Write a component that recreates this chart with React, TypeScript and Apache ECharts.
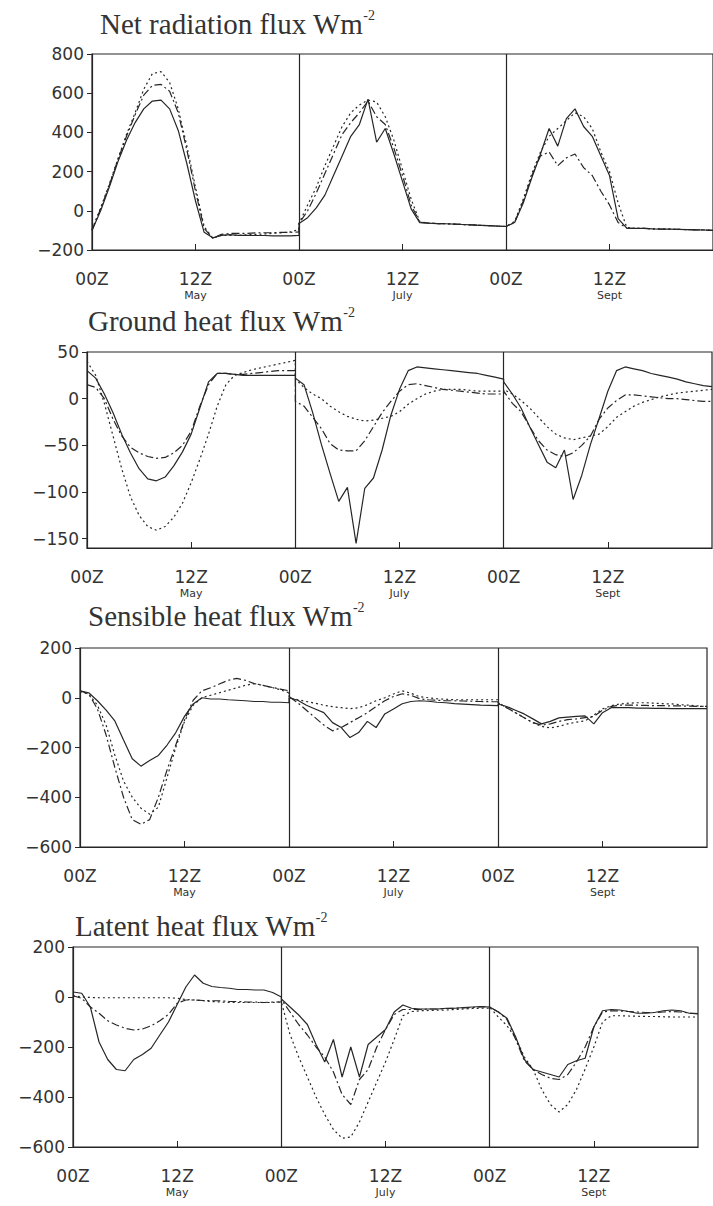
import React, { useEffect, useRef } from "react";
import * as echarts from "echarts";

// ---------- tick labels / categories ----------
const months = ["May", "July", "Sept"];
const titles = [
  "Net radiation flux Wm",
  "Ground heat flux Wm",
  "Sensible heat flux Wm",
  "Latent heat flux Wm",
];

// ---------- Net radiation (W m-2), hourly 00Z..24Z per day ----------
const netSolidMay = [-100, 0, 120, 250, 360, 450, 520, 560, 565, 520, 410, 240, 50, -110, -138, -125, -122, -125, -125, -126, -126, -128, -128, -128, -125];
const netDashMay = [-100, 10, 130, 260, 380, 490, 590, 640, 645, 610, 500, 310, 100, -90, -140, -120, -115, -115, -115, -112, -112, -112, -110, -110, -108];
const netDotMay = [-95, 15, 135, 265, 390, 500, 620, 700, 710, 655, 520, 330, 120, -80, -140, -125, -125, -125, -122, -120, -118, -115, -112, -108, -95];
const netSolidJuly = [-65, -35, 15, 80, 180, 280, 380, 440, 570, 350, 420, 290, 150, 10, -60, -63, -65, -66, -68, -70, -72, -74, -76, -78, -80];
const netDashJuly = [-65, 0, 90, 190, 290, 390, 450, 500, 560, 480, 440, 320, 180, 30, -58, -63, -65, -66, -68, -70, -72, -74, -76, -78, -80];
const netDotJuly = [-65, 30, 120, 230, 330, 430, 500, 540, 565, 555, 480, 360, 210, 60, -55, -63, -65, -66, -68, -70, -72, -74, -76, -78, -80];
const netSolidSept = [-80, -60, 40, 170, 290, 420, 330, 470, 520, 430, 380, 280, 180, -40, -88, -90, -90, -92, -93, -94, -95, -96, -97, -98, -100];
const netDashSept = [-80, -60, 50, 180, 280, 300, 230, 270, 290, 220, 180, 100, 30, -60, -88, -90, -90, -92, -93, -94, -95, -96, -97, -98, -100];
const netDotSept = [-80, -55, 60, 190, 300, 380, 420, 460, 500, 480, 420, 300, 200, 40, -85, -90, -90, -92, -93, -94, -95, -96, -97, -98, -100];

// ---------- Ground heat flux ----------
const gSolidMay = [30, 22, 5, -15, -38, -58, -75, -86, -88, -84, -72, -57, -38, -10, 18, 27, 27, 26, 25, 25, 25, 25, 25, 25, 25];
const gDashMay = [15, 12, 0, -22, -40, -52, -58, -62, -64, -63, -58, -50, -35, -8, 15, 27, 27, 26, 26, 27, 28, 29, 30, 30, 30];
const gDotMay = [40, 25, -5, -40, -75, -105, -125, -137, -141, -137, -127, -112, -90, -65, -38, -8, 15, 25, 28, 31, 33, 35, 37, 39, 41];
const gSolidJuly = [22, 15, -15, -49, -80, -110, -95, -155, -96, -85, -55, -18, 10, 30, 34, 33, 32, 31, 30, 29, 28, 27, 25, 23, 21];
const gDashJuly = [-3, -8, -20, -32, -48, -55, -56, -56, -45, -30, -15, -3, 8, 15, 16, 14, 12, 10, 9, 8, 7, 6, 5, 5, 5];
const gDotJuly = [21, 12, 5, 0, -8, -14, -19, -22, -24, -23, -21, -19, -14, -6, 0, 5, 8, 10, 10, 10, 9, 8, 8, 8, 8];
const gSolidSept = [18, 5, -10, -30, -49, -68, -74, -55, -108, -82, -49, -21, 8, 30, 34, 32, 30, 27, 25, 23, 21, 18, 16, 14, 13];
const gDashSept = [8, -5, -14, -30, -45, -55, -60, -62, -58, -50, -40, -22, -10, -2, 4, 4, 3, 2, 1, 0, 0, -1, -2, -3, -3];
const gDotSept = [10, 5, -2, -10, -20, -30, -38, -42, -44, -42, -40, -38, -30, -20, -14, -8, -4, -1, 2, 4, 6, 7, 8, 9, 10];

// ---------- Sensible heat flux ----------
const sSolidMay = [28, 20, -12, -50, -93, -170, -245, -275, -252, -232, -190, -140, -75, -25, 0, -5, -5, -8, -10, -12, -15, -15, -18, -18, -20];
const sDashMay = [28, 15, -45, -150, -280, -400, -490, -509, -490, -400, -290, -190, -90, -10, 28, 40, 55, 70, 78, 70, 57, 50, 42, 35, 28];
const sDotMay = [25, 15, -30, -110, -230, -335, -400, -444, -468, -440, -320, -200, -95, -30, 0, 10, 20, 30, 40, 50, 57, 50, 42, 32, 20];
const sSolidJuly = [0, -10, -30, -45, -60, -100, -120, -160, -140, -95, -120, -65, -45, -24, -15, -12, -14, -18, -20, -24, -26, -28, -30, -31, -32];
const sDashJuly = [5, -20, -50, -80, -110, -133, -120, -100, -80, -60, -35, -12, 5, 16, 10, -4, -8, -10, -12, -12, -13, -14, -15, -16, -16];
const sDotJuly = [0, -8, -15, -22, -30, -36, -40, -44, -40, -28, -12, 0, 15, 28, 18, 4, 0, -4, -6, -8, -8, -8, -8, -8, -8];
const sSolidSept = [-25, -35, -50, -65, -85, -105, -95, -81, -78, -75, -73, -105, -60, -40, -40, -40, -42, -42, -43, -43, -44, -44, -44, -44, -44];
const sDashSept = [-20, -40, -60, -80, -100, -110, -105, -95, -88, -85, -80, -75, -50, -35, -30, -30, -30, -31, -32, -32, -33, -33, -34, -35, -35];
const sDotSept = [-20, -40, -60, -80, -100, -115, -121, -115, -105, -98, -93, -70, -45, -32, -25, -22, -20, -20, -22, -24, -25, -28, -30, -33, -36];

// ---------- Latent heat flux ----------
const lSolidMay = [20, 15, -40, -180, -250, -290, -295, -250, -230, -205, -152, -100, -30, 40, 88, 55, 42, 38, 35, 30, 30, 28, 28, 18, 0];
const lDashMay = [5, -5, -40, -65, -95, -112, -125, -132, -128, -115, -95, -70, -25, -12, -12, -14, -15, -15, -18, -18, -20, -20, -22, -20, -20];
const lDotMay = [5, 0, -2, -3, -3, -3, -3, -3, -3, -3, -3, -3, -5, -10, -12, -15, -18, -20, -22, -22, -22, -22, -22, -22, -20];
const lSolidJuly = [-8, -40, -72, -110, -190, -260, -170, -320, -200, -320, -190, -160, -130, -60, -32, -45, -48, -48, -48, -45, -45, -42, -40, -38, -40];
const lDashJuly = [-10, -60, -110, -152, -200, -240, -300, -390, -430, -330, -290, -200, -130, -70, -50, -50, -50, -48, -48, -46, -45, -44, -42, -40, -40];
const lDotJuly = [-20, -150, -240, -320, -400, -470, -530, -565, -560, -500, -420, -340, -260, -170, -75, -58, -55, -54, -53, -52, -50, -48, -46, -45, -44];
const lSolidSept = [-40, -60, -85, -160, -250, -290, -300, -310, -320, -270, -255, -245, -120, -55, -50, -52, -58, -65, -65, -62, -55, -52, -55, -65, -68];
const lDashSept = [-40, -60, -90, -170, -255, -290, -310, -325, -330, -310, -260, -200, -120, -60, -55, -56, -58, -60, -62, -62, -60, -58, -60, -64, -66];
const lDotSept = [-40, -80, -115, -165, -240, -290, -370, -430, -460, -430, -370, -288, -200, -100, -75, -75, -76, -77, -78, -78, -79, -80, -80, -80, -80];

const panelSeries = [
  [[netSolidMay, netSolidJuly, netSolidSept], [netDashMay, netDashJuly, netDashSept], [netDotMay, netDotJuly, netDotSept]],
  [[gSolidMay, gSolidJuly, gSolidSept], [gDashMay, gDashJuly, gDashSept], [gDotMay, gDotJuly, gDotSept]],
  [[sSolidMay, sSolidJuly, sSolidSept], [sDashMay, sDashJuly, sDashSept], [sDotMay, sDotJuly, sDotSept]],
  [[lSolidMay, lSolidJuly, lSolidSept], [lDashMay, lDashJuly, lDashSept], [lDotMay, lDotJuly, lDotSept]],
];

const yMin = [-200, -160, -600, -600];
const yMax = [800, 50, 200, 200];
const yTicks = [
  [-200, 0, 200, 400, 600, 800],
  [-150, -100, -50, 0, 50],
  [-600, -400, -200, 0, 200],
  [-600, -400, -200, 0, 200],
];

// layout (px)
const grids = [
  { left: 92, top: 54, width: 628, height: 196 },
  { left: 87, top: 352, width: 625, height: 196 },
  { left: 80, top: 648, width: 627, height: 199 },
  { left: 73, top: 947, width: 625, height: 200 },
];
const titlePos = [
  { left: 100, top: 8 },
  { left: 88, top: 305 },
  { left: 88, top: 600 },
  { left: 75, top: 910 },
];

const INK = "#262626";
const dashTypes: any[] = ["solid", [8, 3, 2, 3], [2, 3]];

function buildData(days: number[][]) {
  const out: number[][] = [];
  days.forEach((d, k) => d.forEach((v, i) => out.push([k * 24 + i, v])));
  return out;
}

export default function App() {
  const ref = useRef<HTMLDivElement>(null);
  useEffect(() => {
    if (!ref.current) return;
    const chart = echarts.init(ref.current, null, { renderer: "svg" });
    const minus = (v: number) => String(v).replace("-", "\u2212");
    const series: any[] = [];
    panelSeries.forEach((p, pi) => {
      p.forEach((days, si) => {
        const s: any = {
          type: "line",
          xAxisIndex: pi,
          yAxisIndex: pi,
          data: buildData(days),
          showSymbol: false,
          symbol: "none",
          lineStyle: { color: INK, width: 1.2, type: dashTypes[si] },
          silent: true,
        };
        if (si === 0) {
          s.markLine = {
            silent: true,
            symbol: ["none", "none"],
            label: { show: false },
            lineStyle: { color: INK, width: 1.2, type: "solid" },
            data: [{ xAxis: 24 }, { xAxis: 48 }],
          };
        }
        series.push(s);
      });
    });
    chart.setOption({
      animation: false,
      backgroundColor: "#fff",
      title: titles.map((t, i) => ({
        text: t + "{s|-2}",
        left: titlePos[i].left,
        top: titlePos[i].top,
        padding: 0,
        textStyle: {
          fontFamily: "Liberation Serif",
          fontWeight: "normal",
          fontSize: 29,
          color: "#333",
          lineHeight: 32,
          rich: {
            s: { fontFamily: "Liberation Serif", fontSize: 14, color: "#333", verticalAlign: "top", lineHeight: 32 },
          },
        },
      })),
      grid: grids.map((g) => ({ ...g, show: true, borderColor: INK, borderWidth: 1.2, backgroundColor: "transparent" })),
      xAxis: grids.map((_, i) => ({
        type: "value",
        gridIndex: i,
        min: 0,
        max: 72,
        interval: 12,
        splitLine: { show: false },
        axisLine: { show: true, onZero: false, lineStyle: { color: INK, width: 1.2 } },
        axisTick: { show: true, inside: true, length: 6, lineStyle: { color: INK } },
        axisLabel: {
          show: true,
          showMaxLabel: false,
          margin: 19,
          fontFamily: "DejaVu Sans",
          fontSize: 17,
          color: "#333",
          lineHeight: 20,
          formatter: (v: number) => {
            if (v >= 72) return "";
            if (v % 24 === 0) return "00Z";
            return "12Z\n{m|" + months[Math.floor(v / 24)] + "}";
          },
          rich: { m: { fontFamily: "DejaVu Sans", fontSize: 11, color: "#333", lineHeight: 12 } },
        },
      })),
      yAxis: grids.map((_, i) => ({
        type: "value",
        gridIndex: i,
        min: yMin[i],
        max: yMax[i],
        splitLine: { show: false },
        axisLine: { show: true, onZero: false, lineStyle: { color: INK, width: 1.2 } },
        axisTick: { show: true, length: 5, customValues: yTicks[i], lineStyle: { color: INK } },
        axisLabel: {
          show: true,
          customValues: yTicks[i],
          margin: 8,
          fontFamily: "DejaVu Sans",
          fontSize: 17,
          color: "#333",
          formatter: (v: number) => minus(v),
        },
      })),
      series,
    });
    return () => chart.dispose();
  }, []);
  return <div ref={ref} style={{ position: "absolute", left: 0, top: 0, width: 713, height: 1206 }} />;
}
